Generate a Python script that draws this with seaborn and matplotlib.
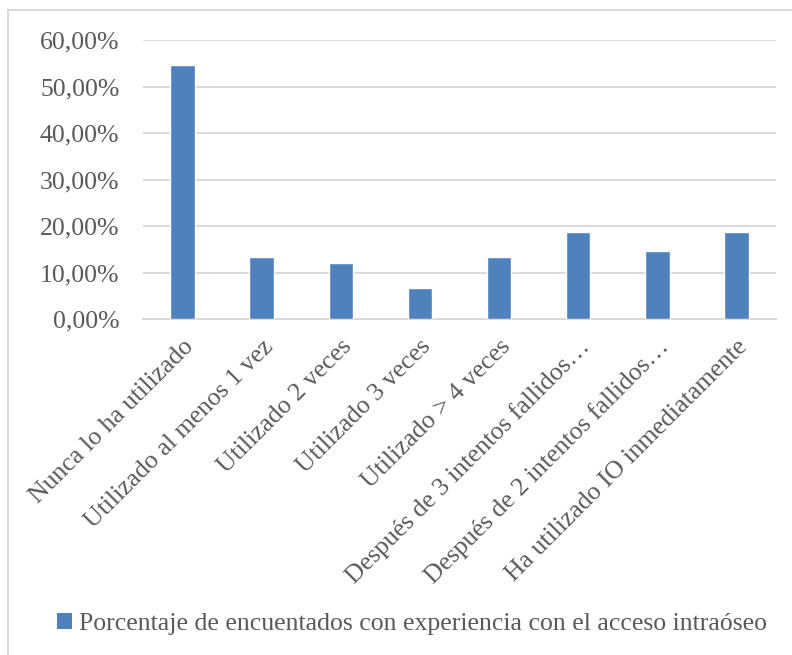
import matplotlib
matplotlib.use("Agg")
import matplotlib.pyplot as plt
from matplotlib.ticker import FuncFormatter, MultipleLocator
from matplotlib.patches import Rectangle, Patch
import pandas as pd
import seaborn as sns

categories = [
    "Nunca lo ha utilizado",
    "Utilizado al menos 1 vez",
    "Utilizado 2 veces",
    "Utilizado 3 veces",
    "Utilizado > 4 veces",
    "Después de 3 intentos fallidos…",
    "Después de 2 intentos fallidos…",
    "Ha utilizado IO inmediatamente",
]
porcentajes = [0.5467, 0.1333, 0.1200, 0.0667, 0.1333, 0.1867, 0.1467, 0.1867]
serie = "Porcentaje de encuentados con experiencia con el acceso intraóseo"

BAR_COLOR = "#4F81BD"
TEXT_COLOR = "#595959"
GRID_COLOR = "#D9D9D9"
FS = 18.5

sns.set_theme(style="white")
plt.rcParams["font.family"] = ["Liberation Serif", "DejaVu Serif"]

df = pd.DataFrame({"categoria": categories, "valor": porcentajes})

fig = plt.figure(figsize=(7.92, 6.55), dpi=100)
ax = fig.add_axes([143 / 792, 1 - 319 / 655, (776 - 143) / 792, (319 - 40) / 655])

sns.barplot(data=df, x="categoria", y="valor", color=BAR_COLOR, width=0.31,
            saturation=1, ax=ax, zorder=3)

ax.set_ylim(0, 0.6)
ax.set_xlim(-0.5, len(categories) - 0.5)
ax.yaxis.set_major_locator(MultipleLocator(0.1))
ax.yaxis.set_major_formatter(
    FuncFormatter(lambda v, _: f"{v * 100:.2f}%".replace(".", ","))
)
ax.grid(axis="y", color=GRID_COLOR, linewidth=1.4, zorder=0)
ax.grid(axis="x", visible=False)
for side in ["top", "right", "left"]:
    ax.spines[side].set_visible(False)
ax.spines["bottom"].set_color(GRID_COLOR)
ax.spines["bottom"].set_linewidth(1.4)
ax.set_xlabel("")
ax.set_ylabel("")

ax.tick_params(axis="y", length=0, pad=17, labelsize=FS, labelcolor=TEXT_COLOR)
ax.tick_params(axis="x", length=0, pad=12, labelsize=FS, labelcolor=TEXT_COLOR)
ax.set_xticks(range(len(categories)))
ax.set_xticklabels(categories, rotation=45, ha="right", rotation_mode="anchor")

handle = Patch(facecolor=BAR_COLOR, edgecolor="none", label=serie)
fig.legend(handles=[handle], loc="center", bbox_to_anchor=(0.52, 1 - 624 / 655),
           frameon=False, fontsize=FS, labelcolor=TEXT_COLOR,
           handlelength=0.6, handleheight=0.6, handletextpad=0.25)

# Chart frame
fig.patches.append(Rectangle((8 / 792, -0.1), 1.2, 1 - 10 / 655 + 0.1,
                             transform=fig.transFigure, fill=False,
                             edgecolor=GRID_COLOR, linewidth=1.4))

fig.savefig("out.png", dpi=100, facecolor="white")
